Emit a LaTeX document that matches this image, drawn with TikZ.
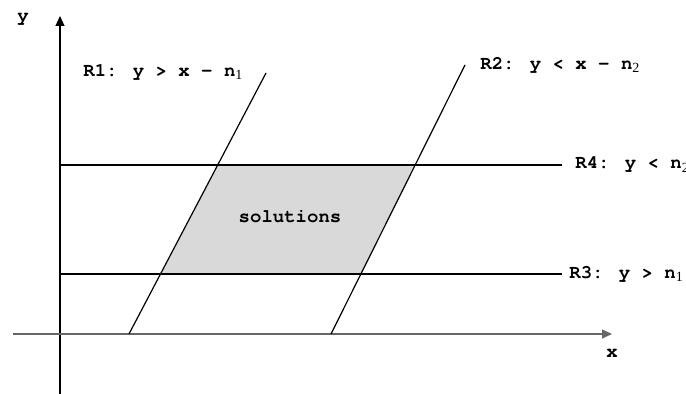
\documentclass[tikz,border=0pt]{standalone}
\usepackage{fontspec}
\setmainfont{TeX Gyre Cursor}
\newfontfamily\subfont{Liberation Serif}
\usetikzlibrary{arrows.meta}
\newcommand{\idx}[1]{\raisebox{-0.4ex}{\subfont\mdseries\fontsize{7}{8}\selectfont #1}}
\tikzset{
  lbl/.style={font=\fontsize{9.5}{11}\selectfont\bfseries, inner sep=0pt},
  axis/.style={line width=0.6pt, -{Triangle[length=5pt,width=4.5pt]}},
  bound/.style={line width=0.6pt}
}
\begin{document}
\begin{tikzpicture}[x=0.5pt,y=-0.5pt]
\useasboundingbox (0,0) rectangle (686,394);
% axes
\coordinate (xs) at (13,334);
\coordinate (xe) at (612,334);
\coordinate (ys) at (60,394);
\coordinate (ye) at (60,16);
% boundary lines
\coordinate (r1a) at (129,334);
\coordinate (r1b) at (266,73);
\coordinate (r2a) at (331,334);
\coordinate (r2b) at (465,65);
\coordinate (r4a) at (60,165);
\coordinate (r4b) at (562,165);
\coordinate (r3a) at (60,274);
\coordinate (r3b) at (562,274);
% solution region
\fill[black!15] (intersection of r1a--r1b and r4a--r4b)
  -- (intersection of r2a--r2b and r4a--r4b)
  -- (intersection of r2a--r2b and r3a--r3b)
  -- (intersection of r1a--r1b and r3a--r3b) -- cycle;
\draw[axis] (ys) -- (ye);
\draw[axis, black!60] (xs) -- (xe);
\draw[bound] (r1a) -- (r1b);
\draw[bound] (r2a) -- (r2b);
\draw[bound] (r4a) -- (r4b);
\draw[bound] (r3a) -- (r3b);
% labels
\node[lbl] (ylab) at (23,19) {y};
\node[lbl] (xlab) at (612,353) {x};
\node[lbl, anchor=west] (l1) at (83,72) {R1: y > x – n\idx{1}};
\node[lbl, anchor=west] (l2) at (480,65) {R2: y < x - n\idx{2}};
\node[lbl, anchor=west] (l4) at (575,165) {R4: y < n\idx{2}};
\node[lbl, anchor=west] (l3) at (569,274) {R3: y > n\idx{1}};
\node[lbl] (sol) at (290,217) {solutions};
\end{tikzpicture}
\end{document}
